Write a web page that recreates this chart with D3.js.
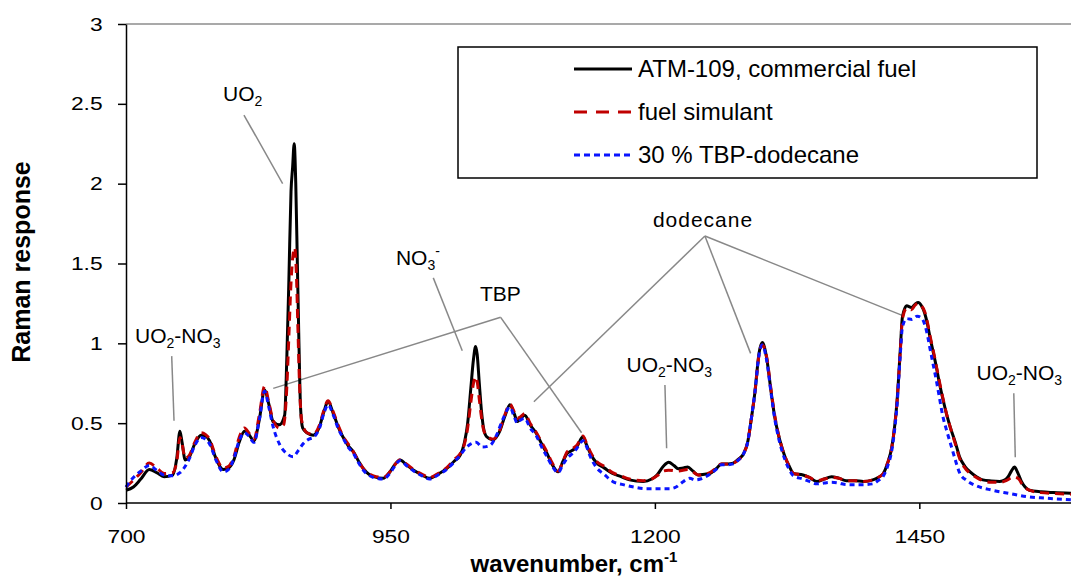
<!DOCTYPE html>
<html>
<head>
<meta charset="utf-8">
<script src="https://cdn.jsdelivr.net/npm/d3@7"></script>
<style>
    body { margin: 0; background: #fff; }
    svg { display: block; font-family: "Liberation Sans", Arial, sans-serif; }
</style>
</head>
<body>
<svg id="Raman" width="1071" height="579"></svg>
<script>
// Tick labels
const wavenumberTicks = [700, 950, 1200, 1450];
const responseTicks = [0, 0.5, 1, 1.5, 2, 2.5, 3];

// Series names (legend order)
const seriesNames = ["ATM-109, commercial fuel", "fuel simulant", "30 % TBP-dodecane"];

// [wavenumber (cm-1), Raman response]
const atm109 = [
    [700,0.08],[707,0.1],[714,0.15],[722,0.21],[729,0.19],[736,0.165],[744,0.175],[748,0.28],[751,0.45],[753,0.38],
    [756,0.27],[760,0.29],[765,0.37],[771,0.425],[775,0.42],[779,0.39],[785,0.28],[792,0.21],[797,0.22],[802,0.27],
    [807,0.38],[812,0.45],[816,0.43],[821,0.39],[826,0.52],[831,0.71],[835,0.62],[839,0.51],[845,0.49],[850,0.55],
    [852,0.9],[854,1.4],[856,1.95],[857.5,2.1],[859,2.25],[860.5,2.0],[862,1.5],[863.5,1.0],[865,0.6],[867,0.47],
    [871,0.44],[877,0.425],[883,0.48],[887,0.57],[891,0.635],[896,0.56],[901,0.47],[905,0.415],[910,0.36],[915,0.32],
    [920,0.26],[925,0.21],[934,0.165],[943,0.155],[950,0.2],[953,0.23],[959,0.27],[965,0.24],[972,0.205],[980,0.175],
    [987,0.155],[995,0.18],[1003,0.215],[1010,0.26],[1016,0.3],[1020,0.38],[1023,0.5],[1026,0.72],[1028.5,0.9],[1030.5,0.98],
    [1032,0.93],[1034,0.75],[1036,0.58],[1038,0.47],[1041,0.415],[1047,0.395],[1053,0.445],[1058,0.54],[1063,0.615],[1067,0.56],
    [1070,0.51],[1073,0.53],[1077,0.55],[1082,0.49],[1088,0.435],[1093,0.37],[1098,0.31],[1103,0.24],[1108.5,0.195],[1113,0.26],
    [1117,0.31],[1122,0.33],[1126,0.35],[1132,0.415],[1135,0.37],[1139,0.31],[1145,0.25],[1152,0.22],[1160,0.185],[1168,0.165],
    [1176,0.145],[1189,0.135],[1197,0.15],[1202,0.175],[1208,0.23],[1213,0.255],[1218,0.235],[1222,0.215],[1227,0.22],[1231,0.225],
    [1236,0.2],[1241,0.175],[1247,0.18],[1252,0.185],[1258,0.215],[1263,0.245],[1269,0.245],[1274,0.25],[1279,0.275],[1284,0.31],
    [1288,0.39],[1291,0.52],[1294.5,0.69],[1298.5,0.94],[1301.5,1.005],[1305.5,0.915],[1310,0.69],[1313,0.55],[1316.5,0.435],[1320,0.35],
    [1323,0.29],[1327,0.23],[1331,0.185],[1340,0.175],[1346,0.16],[1353,0.135],[1360,0.15],[1367,0.165],[1374,0.155],[1381,0.14],
    [1389,0.14],[1397,0.135],[1406,0.145],[1411,0.16],[1416,0.185],[1420,0.25],[1424,0.35],[1427,0.5],[1429,0.645],[1432,0.96],
    [1434,1.165],[1438,1.235],[1442.5,1.225],[1446,1.245],[1449,1.255],[1452,1.235],[1455,1.19],[1458,1.11],[1460,1.04],[1463,0.95],
    [1466,0.855],[1469,0.75],[1472.5,0.645],[1476,0.55],[1479,0.48],[1484,0.38],[1488,0.29],[1493,0.23],[1498,0.195],[1504,0.165],
    [1510,0.145],[1518,0.138],[1526,0.135],[1531,0.145],[1534,0.165],[1537,0.2],[1540,0.225],[1543,0.19],[1546.5,0.135],[1550,0.1],
    [1554,0.08],[1565,0.07],[1577,0.065],[1595,0.06]
];

const fuelSimulant = [
    [700,0.1],[705,0.13],[714,0.19],[722,0.25],[729,0.22],[736,0.185],[744,0.19],[748,0.26],[751,0.41],[753,0.37],
    [756,0.28],[760,0.3],[765,0.38],[771,0.44],[775,0.43],[779,0.4],[785,0.29],[792,0.22],[797,0.23],[802,0.29],
    [807,0.41],[812,0.47],[816,0.44],[821,0.4],[826,0.55],[831,0.73],[835,0.63],[839,0.52],[845,0.47],[849,0.49],
    [852,0.72],[854,1.05],[856,1.38],[858,1.56],[859.5,1.6],[861,1.45],[862.5,1.1],[864,0.75],[866,0.52],[871,0.44],
    [877,0.43],[883,0.49],[887,0.58],[891,0.64],[896,0.57],[901,0.48],[905,0.42],[910,0.37],[915,0.32],[920,0.26],
    [925,0.21],[934,0.17],[943,0.16],[950,0.2],[953,0.23],[959,0.27],[965,0.245],[972,0.21],[980,0.18],[987,0.16],
    [995,0.185],[1003,0.22],[1010,0.27],[1016,0.31],[1020,0.37],[1023,0.47],[1026,0.63],[1028.5,0.75],[1030.5,0.79],[1032,0.76],
    [1034,0.65],[1036,0.54],[1038,0.46],[1041,0.42],[1047,0.4],[1053,0.45],[1058,0.55],[1063,0.62],[1067,0.57],[1070,0.53],
    [1073,0.54],[1077,0.56],[1082,0.5],[1088,0.44],[1093,0.38],[1098,0.32],[1103,0.25],[1108.5,0.2],[1113,0.26],[1117,0.32],
    [1122,0.34],[1126,0.36],[1132,0.42],[1135,0.38],[1139,0.32],[1145,0.26],[1152,0.23],[1160,0.19],[1168,0.17],[1176,0.15],
    [1189,0.14],[1197,0.15],[1202,0.17],[1208,0.2],[1213,0.205],[1222,0.2],[1231,0.21],[1236,0.195],[1241,0.175],[1247,0.18],
    [1252,0.19],[1258,0.22],[1263,0.245],[1269,0.245],[1274,0.25],[1279,0.27],[1284,0.31],[1288,0.39],[1291,0.52],[1294.5,0.69],
    [1298.5,0.93],[1301.5,0.99],[1305.5,0.92],[1310,0.7],[1313,0.56],[1316.5,0.44],[1320,0.35],[1323,0.29],[1327,0.23],[1331,0.185],
    [1340,0.175],[1346,0.16],[1353,0.14],[1360,0.15],[1367,0.16],[1374,0.155],[1381,0.14],[1389,0.14],[1397,0.135],[1406,0.145],
    [1411,0.16],[1416,0.185],[1420,0.25],[1424,0.35],[1427,0.5],[1429,0.64],[1432,0.95],[1434,1.15],[1438,1.22],[1442.5,1.21],
    [1446,1.24],[1449,1.25],[1452,1.235],[1455,1.2],[1458,1.12],[1460,1.05],[1463,0.96],[1466,0.86],[1469,0.76],[1472.5,0.65],
    [1476,0.55],[1479,0.48],[1484,0.37],[1488,0.28],[1493,0.22],[1498,0.185],[1504,0.16],[1510,0.14],[1518,0.13],[1526,0.13],
    [1532,0.14],[1536,0.155],[1540,0.165],[1544,0.15],[1548,0.11],[1554,0.08],[1565,0.065],[1577,0.06],[1595,0.055]
];

const tbpDodecane = [
    [700,0.1],[707,0.16],[714,0.2],[722,0.235],[729,0.205],[736,0.175],[744,0.17],[751,0.19],[756,0.23],[760,0.28],
    [765,0.36],[771,0.41],[775,0.4],[779,0.37],[785,0.27],[792,0.195],[797,0.21],[802,0.28],[807,0.39],[812,0.44],
    [816,0.42],[821,0.38],[826,0.52],[831,0.7],[835,0.6],[839,0.48],[845,0.37],[852,0.31],[858,0.29],[863,0.33],
    [868,0.375],[873,0.4],[877,0.41],[883,0.47],[887,0.56],[891,0.615],[896,0.55],[901,0.46],[905,0.41],[910,0.35],
    [915,0.31],[920,0.25],[925,0.2],[934,0.16],[943,0.15],[950,0.19],[953,0.22],[959,0.265],[965,0.235],[972,0.2],
    [980,0.17],[987,0.15],[995,0.175],[1003,0.21],[1010,0.255],[1016,0.3],[1022,0.35],[1026,0.37],[1031,0.38],[1037,0.35],
    [1044,0.36],[1050,0.42],[1056,0.52],[1063,0.6],[1067,0.54],[1070,0.5],[1073,0.52],[1077,0.53],[1082,0.47],[1088,0.42],
    [1093,0.35],[1098,0.29],[1103,0.23],[1108.5,0.19],[1113,0.24],[1117,0.28],[1122,0.31],[1126,0.34],[1132,0.39],[1135,0.36],
    [1139,0.29],[1145,0.22],[1152,0.18],[1160,0.135],[1170,0.115],[1180,0.1],[1192,0.09],[1205,0.09],[1214,0.09],[1220,0.1],
    [1226,0.13],[1233,0.155],[1238,0.145],[1243,0.15],[1248,0.165],[1252,0.18],[1258,0.21],[1263,0.24],[1269,0.24],[1274,0.245],
    [1279,0.27],[1284,0.31],[1288,0.39],[1291,0.52],[1294.5,0.69],[1298.5,0.93],[1301.5,0.99],[1305.5,0.9],[1310,0.68],[1313,0.54],
    [1316.5,0.42],[1320,0.33],[1323,0.27],[1327,0.21],[1331,0.17],[1340,0.15],[1346,0.135],[1353,0.12],[1360,0.125],[1367,0.13],
    [1374,0.125],[1381,0.115],[1389,0.115],[1397,0.115],[1406,0.12],[1411,0.14],[1416,0.17],[1420,0.23],[1424,0.33],[1427,0.48],
    [1429,0.62],[1432,0.93],[1434,1.1],[1438,1.155],[1443,1.15],[1448,1.17],[1452,1.16],[1455,1.12],[1458,1.04],[1460,0.97],
    [1463,0.87],[1466,0.77],[1469,0.66],[1472,0.55],[1476,0.45],[1480,0.36],[1484,0.27],[1488,0.19],[1495,0.14],[1503,0.11],
    [1519,0.08],[1535,0.06],[1551,0.04],[1570,0.03],[1595,0.02]
];

// Peak labels, placed in data units: text start + leader lines [x1, y1, x2, y2]
const annotations = [
    { parts: [["UO"], ["2", "sub"]], x: 791.7, y: 2.52, leaders: [[811.5, 2.43, 848.1, 2.0]] },
    { parts: [["UO"], ["2", "sub"], ["-NO"], ["3", "sub"]], x: 708.5, y: 1.0, leaders: [[743.2, 0.92, 745.4, 0.515]] },
    { parts: [["NO"], ["3", "sub"], ["-", "sup"]], x: 955.2, y: 1.49, leaders: [[990.5, 1.41, 1017.9, 0.954]] },
    { parts: [["TBP"]], x: 1034.6, y: 1.267, leaders: [[1054.2, 1.163, 839.2, 0.718], [1054.2, 1.163, 1130.7, 0.44]] },
    { parts: [["dodecane"]], x: 1198.1, y: 1.73, spacing: 1,
      leaders: [[1247.3, 1.672, 1085.6, 0.634], [1247.3, 1.672, 1290.5, 0.937], [1247.3, 1.672, 1433.2, 1.177]] },
    { parts: [["UO"], ["2", "sub"], ["-NO"], ["3", "sub"]], x: 1173.2, y: 0.822, leaders: [[1209.5, 0.739, 1211.1, 0.343]] },
    { parts: [["UO"], ["2", "sub"], ["-NO"], ["3", "sub"]], x: 1504.1, y: 0.77, leaders: [[1539.3, 0.687, 1540.7, 0.286]] }
];

const svg = d3.select("svg#Raman");

const xScale = d3.scaleLinear().domain([700, 1600]).range([126, 1078]);
const yScale = d3.scaleLinear().domain([0, 3]).range([503, 24]);

// Top border line of the plot area (gray, at y = 3)
svg.append("line")
    .attr("x1", xScale(700)).attr("x2", 1071)
    .attr("y1", yScale(3)).attr("y2", yScale(3))
    .attr("stroke", "#8c8c8c").attr("stroke-width", 1.5);

// Leader lines
const leaderG = svg.append("g");
annotations.forEach(a => {
    a.leaders.forEach(l => {
        leaderG.append("line")
            .attr("x1", xScale(l[0])).attr("y1", yScale(l[1]))
            .attr("x2", xScale(l[2])).attr("y2", yScale(l[3]))
            .attr("stroke", "#888").attr("stroke-width", 1.5);
    });
});

// Annotation text with sub/superscripts
annotations.forEach(a => {
    const t = svg.append("text")
        .attr("x", xScale(a.x)).attr("y", yScale(a.y))
        .attr("font-size", 21)
        .attr("letter-spacing", a.spacing || 0)
        .attr("fill", "#000");
    let shift = 0;
    a.parts.forEach(p => {
        const target = p[1] === "sub" ? 5 : p[1] === "sup" ? -9 : 0;
        t.append("tspan")
            .attr("dy", target - shift)
            .attr("font-size", p[1] ? 14 : 21)
            .text(p[0]);
        shift = target;
    });
});

// Series lines
const line = d3.line()
    .x(d => xScale(d[0]))
    .y(d => yScale(d[1]))
    .curve(d3.curveMonotoneX);

const styles = [
    { color: "#000000", dash: null },
    { color: "#c00000", dash: "9,6" },
    { color: "#0a14ff", dash: "5,4" }
];
const allSeries = [atm109, fuelSimulant, tbpDodecane];

svg.append("g").selectAll("path")
    .data(allSeries)
    .enter()
    .append("path")
    .attr("d", line)
    .attr("fill", "none")
    .attr("stroke", (d, i) => styles[i].color)
    .attr("stroke-width", 3)
    .attr("stroke-linejoin", "round")
    .attr("stroke-dasharray", (d, i) => styles[i].dash);

// Axes (plain number labels: "3", "1200")
const xAxis = svg.append("g")
    .attr("transform", `translate(0,${yScale(0)})`)
    .call(d3.axisBottom(xScale).tickValues(wavenumberTicks).tickFormat(d => String(d))
        .tickSize(6).tickPadding(21).tickSizeOuter(0));

const yAxis = svg.append("g")
    .attr("transform", `translate(${xScale(700)},0)`)
    .call(d3.axisLeft(yScale).tickValues(responseTicks).tickFormat(d => String(d))
        .tickSize(8).tickPadding(15).tickSizeOuter(0));

[xAxis, yAxis].forEach(g => {
    g.select(".domain").attr("stroke", "#000").attr("stroke-width", 1.5);
    g.selectAll(".tick line").attr("stroke", "#000").attr("stroke-width", 1.5);
    g.selectAll(".tick text")
        .attr("font-family", "Liberation Sans, Arial, sans-serif")
        .attr("font-size", 19)
        .attr("fill", "#000");
});
// labels in the picture are drawn slightly wide
xAxis.selectAll(".tick text").attr("transform", "scale(1.2,1)");
yAxis.selectAll(".tick text").attr("transform", "scale(1.2,1)").attr("x", -19.5);

// x-axis domain line runs to the right edge
xAxis.select(".domain").attr("d", `M${xScale(700)},0H1071`);

// Axis titles
const xTitle = svg.append("text")
    .attr("x", 574).attr("y", 572)
    .attr("text-anchor", "middle")
    .attr("font-size", 24).attr("font-weight", "bold");
xTitle.append("tspan").text("wavenumber, cm");
xTitle.append("tspan").attr("dy", -10).attr("font-size", 15).text("-1");

svg.append("text")
    .attr("transform", "translate(30,262) rotate(-90)")
    .attr("text-anchor", "middle")
    .attr("font-size", 25).attr("font-weight", "bold")
    .text("Raman response");

// Legend
const legend = svg.append("g");
legend.append("rect")
    .attr("x", 458).attr("y", 47)
    .attr("width", 579).attr("height", 131)
    .attr("fill", "#fff").attr("stroke", "#000").attr("stroke-width", 1.5);

seriesNames.forEach((name, i) => {
    const y = 69 + i * 43;
    legend.append("line")
        .attr("x1", 574).attr("x2", 632)
        .attr("y1", y).attr("y2", y)
        .attr("stroke", styles[i].color)
        .attr("stroke-width", 3)
        .attr("stroke-dasharray", i === 1 ? "13,9" : i === 2 ? "6,4" : null);
    legend.append("text")
        .attr("x", 638).attr("y", y + 8)
        .attr("font-size", 24)
        .text(name);
});
</script>
</body>
</html>
